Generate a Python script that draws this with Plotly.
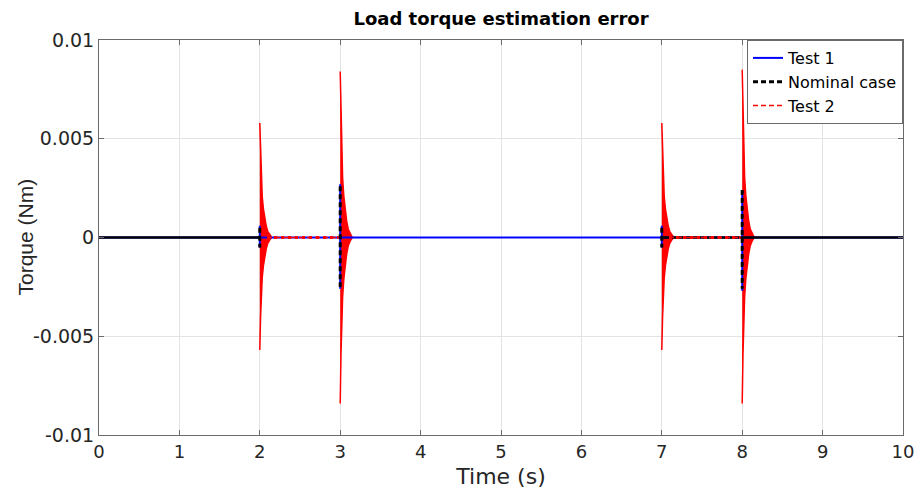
import plotly.graph_objects as go

# ---------------- data ----------------
x_ticks = [0, 1, 2, 3, 4, 5, 6, 7, 8, 9, 10]
y_ticks = [0.01, 0.005, 0, -0.005, -0.01]
y_tick_labels = ["0.01", "0.005", "0", "-0.005", "-0.01"]

# Test 1 (blue): zero with short transients at the load steps
test1_t = [0.0, 2.0, 2.0, 2.0, 2.0, 3.0, 3.0, 3.0, 3.0, 7.0, 7.0, 7.0, 7.0, 8.0, 8.0, 8.0, 8.0, 10.0]
test1_y = [0.0, 0.0, 0.0006, -0.0005, 0.0, 0.0, 0.0027, -0.0026, 0.0, 0.0, 0.0006, -0.0005, 0.0, 0.0, 0.0024, -0.0027, 0.0, 0.0]

# Nominal case (black dashed): transients
nominal_t = [2.0, 2.0, None, 3.0, 3.0, None, 7.0, 7.0, None, 8.0, 8.0]
nominal_y = [0.0005, -0.0005, None, 0.0026, -0.0025, None, 0.0005, -0.0005, None, 0.0024, -0.0026]
# Nominal case flat zero segments
nominal_flat_t = [0.0, 2.0, None, 7.0, 10.0]
nominal_flat_y = [0.0, 0.0, None, 0.0, 0.0]

# Test 2 (red): oscillatory bursts at each load step
burst_t0 = [2.0, 3.0, 7.0, 8.0]
burst_pos = [0.0058, 0.0084, 0.0058, 0.0085]
burst_neg = [-0.0057, -0.0084, -0.0057, -0.0084]
# decay of burst envelope (time after step, relative amplitude)
decay_dt = [0.0, 0.01, 0.02, 0.03, 0.045, 0.06, 0.08, 0.1, 0.125, 0.15]
decay_rel = [1.0, 0.7, 0.5, 0.36, 0.25, 0.17, 0.1, 0.05, 0.02, 0.0]
# small residual ripple between steps
ripple_t = [2.09, 2.98, None, 7.09, 7.98]
ripple_y = [0.0, 0.0, None, 0.0, 0.0]

# ---------------- figure ----------------
fig = go.Figure()

for t0, hi, lo in zip(burst_t0, burst_pos, burst_neg):
    xs = [t0 + d for d in decay_dt] + [t0 + d for d in reversed(decay_dt)]
    ys = [hi * r for r in decay_rel] + [lo * r for r in reversed(decay_rel)]
    fig.add_trace(go.Scatter(x=xs, y=ys, mode="lines", fill="toself",
                             fillcolor="#ff0000", line=dict(color="#ff0000", width=1.5),
                             showlegend=False, hoverinfo="skip"))

fig.add_trace(go.Scatter(x=test1_t, y=test1_y, mode="lines", name="Test 1",
                         line=dict(color="#0000ff", width=2)))
fig.add_trace(go.Scatter(x=nominal_flat_t, y=nominal_flat_y, mode="lines",
                         line=dict(color="#000000", width=2.6), showlegend=False,
                         hoverinfo="skip"))
fig.add_trace(go.Scatter(x=nominal_t, y=nominal_y, mode="lines", name="Nominal case",
                         line=dict(color="#000000", width=3, dash="5px,3px")))
fig.add_trace(go.Scatter(x=ripple_t, y=ripple_y, mode="lines", showlegend=False,
                         line=dict(color="#ff0000", width=3, dash="3px,4px"),
                         hoverinfo="skip"))
fig.add_trace(go.Scatter(x=ripple_t, y=ripple_y, mode="lines", name="Test 2",
                         line=dict(color="#ff0000", width=1.5, dash="5px,3px")))

wide = "DejaVu Sans, Verdana, sans-serif"
narrow = "Liberation Sans, Arial, sans-serif"
axis_common = dict(
    showline=True, linecolor="#6a6a6a", linewidth=1, mirror="ticks",
    ticks="inside", ticklen=5, tickcolor="#6a6a6a",
    showgrid=True, gridcolor="#e3e3e3", gridwidth=1, zeroline=False,
    automargin=False, ticklabeloverflow="allow",
)

fig.update_layout(
    width=915, height=494,
    margin=dict(l=99, r=12, t=40, b=59),
    paper_bgcolor="white", plot_bgcolor="white",
    title=dict(text="<b>Load torque estimation error</b>", x=0.5, xanchor="center",
               xref="paper", y=0.962, yanchor="middle", automargin=False,
               font=dict(family=wide, size=18, color="#000000")),
    xaxis=dict(range=[0, 10], tickvals=x_ticks,
               tickfont=dict(family=wide, size=18, color="#262626"),
               title=dict(text="Time (s)", font=dict(family=wide, size=22, color="#262626"), standoff=8),
               **axis_common),
    yaxis=dict(range=[-0.01, 0.01], tickvals=y_ticks, ticktext=y_tick_labels,
               tickfont=dict(family=wide, size=19, color="#262626"),
               **axis_common),
    annotations=[dict(text="Torque (Nm)", textangle=-90, xref="paper", yref="paper",
                      x=(25 - 99) / 804, y=0.5, xanchor="center", yanchor="middle",
                      showarrow=False,
                      font=dict(family=narrow, size=21, color="#262626"))],
    legend=dict(x=1, xanchor="right", y=1, yanchor="top",
                bgcolor="white", bordercolor="#6a6a6a", borderwidth=1,
                font=dict(family=wide, size=16, color="#000000"),
                tracegroupgap=0, itemwidth=30),
    showlegend=True,
)

fig.write_html("out.html", config={"displayModeBar": False},
               post_script="document.body.style.margin='0';")
